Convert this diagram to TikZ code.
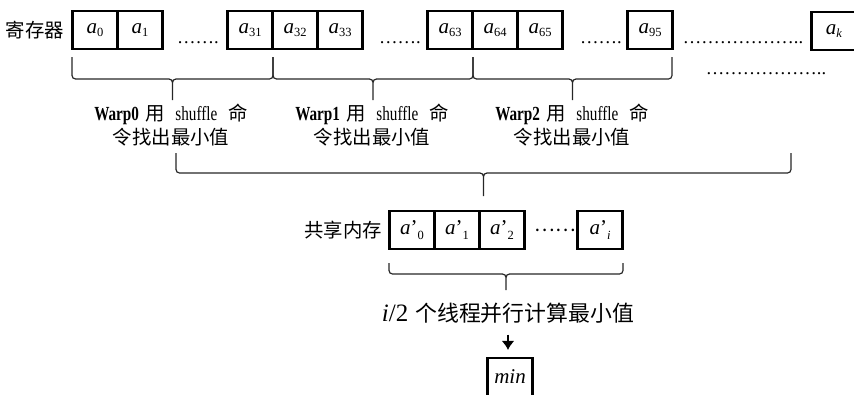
\documentclass[tikz,border=0pt]{standalone}
\usepackage{fontspec}
\setmainfont{Liberation Serif}
\newfontfamily\cjk[Scale=1.25]{Noto Sans CJK SC}
\newfontfamily\narrow[FakeStretch=0.76]{Liberation Serif}
\usetikzlibrary{arrows.meta}
\newcommand{\av}[1]{\textit{a}\raisebox{-0.3ex}{\fontsize{12.5}{12.5}\selectfont #1}}
\newcommand{\avp}[1]{\textit{a}'\raisebox{-0.45ex}{\fontsize{12.5}{12.5}\selectfont #1}}
\newcommand{\warpbrace}[5]{%
  \draw[bracket] (#1,#3) |- ({(#1+#2)/2},#4) -- ({(#1+#2)/2},#5)
                 (#2,#3) |- ({(#1+#2)/2},#4) -- ({(#1+#2)/2},#5);}
\newcommand{\wl}[1]{{\fontsize{20}{24}\selectfont\narrow #1}}
\newcommand{\warptext}[1]{\wl{\textbf{Warp#1}}\hspace{6pt}{\cjk 用}\hspace{11pt}\wl{shuffle}\hspace{11pt}{\cjk 命}\\{\cjk 令找出最小值}}
\tikzset{
  cell/.style={draw, line width=2.2pt, minimum width=45pt, minimum height=38pt, inner sep=0pt,
    font=\fontsize{21}{21}\selectfont},
  bracket/.style={line width=1.2pt, rounded corners=3.5pt, black!85},
  warp/.style={align=center},
  dots/.style={font=\fontsize{18.5}{20}\selectfont},
  flow/.style={-{Latex[length=9pt,width=13pt]}, line width=2.6pt}
}
\begin{document}
\begin{tikzpicture}[x=1pt, y=-1pt, font=\fontsize{15.5}{24}\selectfont]
                \useasboundingbox (0,0) rectangle (854,394);
                % registers
                \node(REG) at (35,30) {\cjk 寄存器};
                \node[cell](A0) at (95,30) {\av{0}};
                \node[cell](A1) at (140,30) {\av{1}};
                \node[dots](D1) at (198,43) {…….};
                \node[cell](A31) at (250,30) {\av{31}};
                \node[cell](A32) at (295,30) {\av{32}};
                \node[cell](A33) at (340,30) {\av{33}};
                \node[dots](D2) at (400,43) {…….};
                \node[cell](A63) at (450,30) {\av{63}};
                \node[cell](A64) at (495,30) {\av{64}};
                \node[cell](A65) at (540,30) {\av{65}};
                \node[dots](D3) at (601,43) {…….};
                \node[cell](A95) at (650,30) {\av{95}};
                \node[dots](D4) at (743,43) {………………..};
                \node[cell](AK) at (834,31) {\av{\textit{k}}};
                \node[dots](D5) at (766,74) {………………..};
                % warp reductions
                \warpbrace{72}{273}{57}{79}{100}
                \warpbrace{273}{473}{57}{79}{100}
                \warpbrace{473}{672}{57}{79}{100}
                \node[warp](W0) at (171,125) {\warptext{0}};
                \node[warp](W1) at (372,125) {\warptext{1}};
                \node[warp](W2) at (572,125) {\warptext{2}};
                \warpbrace{176}{791}{153}{173}{196}
                % shared memory
                \node(SHM) at (343,230) {\cjk 共享内存};
                \node[cell](S0) at (412,230) {\avp{0}};
                \node[cell](S1) at (457,230) {\avp{1}};
                \node[cell](S2) at (502,230) {\avp{2}};
                \node(D6) at (555,230) {\cjk ……};
                \node[cell](SI) at (600,230) {\avp{\textit{i}}};
                \warpbrace{389}{623}{263}{274}{290}
                \node(CALC) at (508,313) {\fontsize{17.5}{22}\selectfont{\fontsize{25}{22}\selectfont\textit{i}/2}\hspace{7pt}{\cjk 个线程并行计算最小值}};
                \node[cell](MIN) at (510,377) {\textit{min}};
                \draw[flow, shorten <=8pt, shorten >=7pt] (CALC.south) -- (CALC.south |- MIN.north);
            \end{tikzpicture}
\end{document}
